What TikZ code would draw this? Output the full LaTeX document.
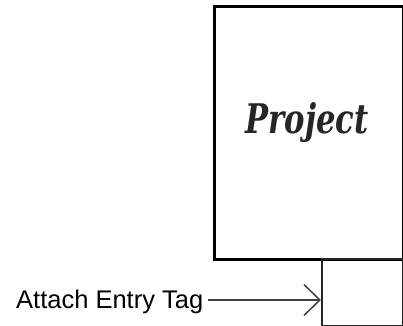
\documentclass[tikz,border=0pt]{standalone}
\usepackage{fontspec}
\setmainfont{Liberation Sans}
\newfontfamily\projfont{DejaVu Serif}
\usetikzlibrary{arrows.meta}
\tikzset{
  bigbox/.style={draw=black, line width=2.6bp, inner sep=0pt},
  tagbox/.style={draw=black!85, line width=1.5bp, inner sep=0pt},
  arr/.style={draw=black!75, line width=1.6bp, -{Straight Barb[length=16bp,width=31bp,line width=1.5bp]}},
}
\begin{document}
\begin{tikzpicture}[x=1bp,y=-1bp]
\useasboundingbox (0,0) rectangle (403,326);
\node[bigbox, anchor=north west, minimum width=189bp, minimum height=253bp] (proj) at (213,5) {};
\node[tagbox, anchor=north west, minimum width=81bp, minimum height=67bp] (tag) at (321,258) {};
\node[anchor=base, inner sep=0pt, text=black!85] (ptxt) at (307,133)
  {\resizebox{123bp}{31bp}{\projfont\bfseries\itshape Project}};
\node[anchor=base west, inner sep=0pt, font=\fontsize{25.5bp}{30bp}\selectfont, text=black] (lbl) at (16,308.5) {Attach Entry Tag};
\coordinate (a) at (320,300);
\draw[arr] ([xshift=5bp]lbl.east |- a) -- (tag.west |- a);
\end{tikzpicture}
\end{document}
